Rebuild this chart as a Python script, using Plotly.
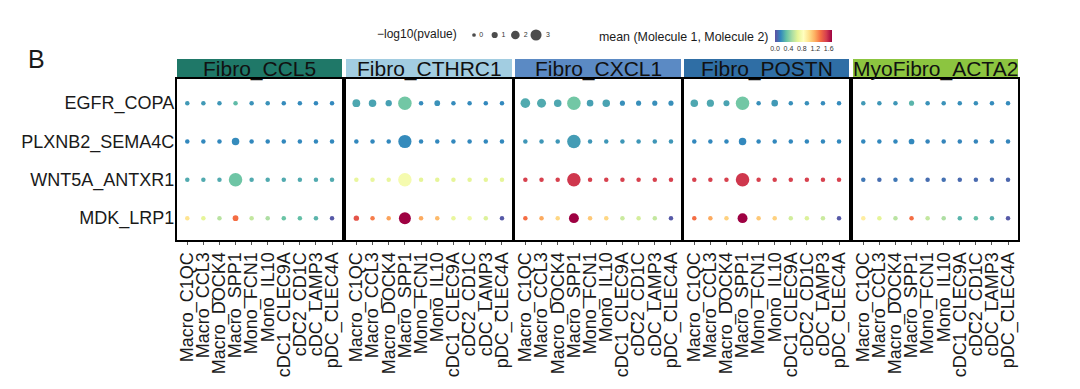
import plotly.graph_objects as go

W, H = 1080, 389

groups = ["Fibro_CCL5", "Fibro_CTHRC1", "Fibro_CXCL1", "Fibro_POSTN", "MyoFibro_ACTA2"]
strip_colors = ["#1f7868", "#a2cde1", "#5b8ac4", "#2f6ea5", "#8cc540"]
cells = ["Macro_C1QC", "Macro_CCL3", "Macro_DOCK4", "Macro_SPP1", "Mono_FCN1",
         "Mono_IL10", "cDC1_CLEC9A", "cDC2_CD1C", "cDC_LAMP3", "pDC_CLEC4A"]
pairs = ["EGFR_COPA", "PLXNB2_SEMA4C", "WNT5A_ANTXR1", "MDK_LRP1"]

# mean (Molecule 1, Molecule 2): rows follow `pairs`, columns follow `cells`
mean_ccl5 = [
    [0.22, 0.22, 0.21, 0.32, 0.20, 0.20, 0.18, 0.18, 0.17, 0.17],
    [0.17, 0.17, 0.17, 0.18, 0.17, 0.17, 0.17, 0.17, 0.17, 0.17],
    [0.27, 0.27, 0.27, 0.36, 0.27, 0.27, 0.27, 0.27, 0.27, 0.27],
    [1.00, 0.68, 0.55, 1.36, 0.58, 0.52, 0.35, 0.33, 0.30, 0.03],
]
mean_cthrc1 = [
    [0.26, 0.25, 0.24, 0.37, 0.18, 0.20, 0.18, 0.18, 0.17, 0.17],
    [0.17, 0.17, 0.17, 0.18, 0.17, 0.17, 0.17, 0.17, 0.17, 0.17],
    [0.70, 0.70, 0.70, 0.78, 0.68, 0.68, 0.68, 0.68, 0.68, 0.68],
    [1.45, 1.32, 1.22, 1.70, 1.20, 1.15, 0.70, 0.74, 0.65, 0.03],
]
mean_cxcl1 = [
    [0.27, 0.27, 0.26, 0.37, 0.24, 0.25, 0.19, 0.19, 0.19, 0.19],
    [0.21, 0.21, 0.21, 0.23, 0.21, 0.21, 0.21, 0.21, 0.21, 0.21],
    [1.52, 1.52, 1.52, 1.55, 1.52, 1.52, 1.52, 1.52, 1.52, 1.52],
    [1.36, 1.20, 1.05, 1.70, 1.10, 1.05, 0.60, 0.63, 0.58, 0.03],
]
mean_postn = [
    [0.26, 0.26, 0.25, 0.37, 0.19, 0.22, 0.19, 0.19, 0.18, 0.18],
    [0.17, 0.17, 0.17, 0.17, 0.17, 0.17, 0.17, 0.17, 0.17, 0.17],
    [1.52, 1.52, 1.52, 1.55, 1.52, 1.52, 1.52, 1.52, 1.52, 1.52],
    [1.36, 1.20, 1.07, 1.70, 1.10, 1.07, 0.62, 0.65, 0.60, 0.03],
]
mean_acta2 = [
    [0.22, 0.21, 0.21, 0.30, 0.20, 0.20, 0.19, 0.19, 0.18, 0.18],
    [0.17, 0.17, 0.17, 0.17, 0.16, 0.16, 0.16, 0.16, 0.16, 0.16],
    [0.12, 0.09, 0.12, 0.13, 0.09, 0.10, 0.08, 0.08, 0.08, 0.07],
    [0.95, 0.68, 0.55, 1.36, 0.58, 0.52, 0.30, 0.33, 0.28, 0.03],
]

# -log10(pvalue)
logp_ccl5 = [
    [0, 0, 0, 0, 0, 0, 0, 0, 0, 0],
    [0, 0, 0, 1.0, 0, 0, 0, 0, 0, 0],
    [0, 0, 0, 3.0, 0, 0, 0, 0, 0, 0],
    [0, 0, 0, 0.4, 0, 0, 0, 0, 0, 0],
]
logp_cthrc1 = [
    [1.1, 1.0, 0.6, 3.0, 0, 0.4, 0, 0, 0, 0],
    [0, 0, 0, 2.9, 0, 0, 0, 0, 0, 0],
    [0, 0, 0, 3.0, 0, 0, 0, 0, 0, 0],
    [0.3, 0, 0, 2.5, 0, 0, 0, 0, 0, 0],
]
logp_cxcl1 = [
    [1.7, 1.5, 1.0, 3.0, 0.7, 1.0, 0.2, 0.2, 0.2, 0.2],
    [0, 0, 0, 3.0, 0, 0, 0, 0, 0, 0],
    [0, 0, 0, 3.0, 0, 0, 0, 0, 0, 0],
    [0, 0, 0, 1.8, 0, 0, 0, 0, 0, 0],
]
logp_postn = [
    [1.0, 0.9, 0.5, 3.0, 0, 0.7, 0, 0, 0, 0],
    [0, 0, 0, 1.0, 0, 0, 0, 0, 0, 0],
    [0, 0, 0, 3.0, 0, 0, 0, 0, 0, 0],
    [0, 0, 0, 1.8, 0, 0, 0, 0, 0, 0],
]
logp_acta2 = [
    [0, 0, 0, 0.2, 0, 0, 0, 0, 0, 0],
    [0, 0, 0, 0.4, 0, 0, 0, 0, 0, 0],
    [0, 0, 0, 0, 0, 0, 0, 0, 0, 0],
    [0, 0, 0, 0, 0, 0, 0, 0, 0, 0],
]

size_legend_vals = [0, 1, 2, 3]
colorbar_ticks = [0.0, 0.4, 0.8, 1.2, 1.6]

means = [mean_ccl5, mean_cthrc1, mean_cxcl1, mean_postn, mean_acta2]
logps = [logp_ccl5, logp_cthrc1, logp_cxcl1, logp_postn, logp_acta2]

spectral_r = [
    [0.0, "rgb(94,79,162)"], [0.1, "rgb(50,136,189)"], [0.2, "rgb(102,194,165)"],
    [0.3, "rgb(171,221,164)"], [0.4, "rgb(230,245,152)"], [0.5, "rgb(255,255,191)"],
    [0.6, "rgb(254,224,139)"], [0.7, "rgb(253,174,97)"], [0.8, "rgb(244,109,67)"],
    [0.9, "rgb(213,62,79)"], [1.0, "rgb(158,1,66)"],
]
CMIN, CMAX = 0.0, 1.7
FONT = "Liberation Sans, Arial, Helvetica, sans-serif"


def px2size(v):
    return 4.5 + 3.0 * v


panel_x = [(177, 342), (346, 512), (515, 681), (684, 849), (853, 1018)]
box_top, box_bot = 79, 240
strip_top, strip_bot = 59, 78

fig = go.Figure()
layout = dict(
    width=W, height=H, margin=dict(l=0, r=0, t=0, b=0, autoexpand=False),
    paper_bgcolor="white", plot_bgcolor="white",
    font=dict(family=FONT, color="#1a1a1a"),
    showlegend=False,
)
shapes, annotations = [], []

for i, g in enumerate(groups):
    xs, ys, cs, ss = [], [], [], []
    for r, p in enumerate(pairs):
        for c, cell in enumerate(cells):
            xs.append(cell)
            ys.append(p)
            cs.append(means[i][r][c])
            ss.append(px2size(logps[i][r][c]))
    xa = "x" if i == 0 else f"x{i+1}"
    ya = "y" if i == 0 else f"y{i+1}"
    marker = dict(color=cs, size=ss, sizemode="diameter", colorscale=spectral_r,
                  cmin=CMIN, cmax=CMAX, line=dict(width=0), opacity=1)
    if i == 0:
        marker.update(showscale=True, colorbar=dict(
            orientation="h", x=(775 + 832) / 2 / W, xanchor="center",
            y=1 - 49 / H, yanchor="bottom", lenmode="pixels", len=57,
            thickness=12, xpad=0, ypad=0, outlinewidth=0,
            tickvals=colorbar_ticks, ticktext=[f"{t:.1f}" for t in colorbar_ticks],
            ticks="", tickfont=dict(size=7, family=FONT, color="#333"),
        ))
    else:
        marker.update(showscale=False)
    fig.add_trace(go.Scatter(x=xs, y=ys, mode="markers", marker=marker,
                             xaxis=xa, yaxis=ya, hoverinfo="skip"))
    x0, x1 = panel_x[i]
    xkey = "xaxis" if i == 0 else f"xaxis{i+1}"
    ykey = "yaxis" if i == 0 else f"yaxis{i+1}"
    layout[xkey] = dict(
        domain=[x0 / W, x1 / W], anchor=ya, type="category",
        categoryorder="array", categoryarray=cells, range=[-0.64, 9.62],
        tickmode="array", tickvals=cells, ticktext=cells,
        tickangle=-90, tickfont=dict(size=18, family=FONT, color="#1a1a1a"),
        ticks="outside", ticklen=3, tickwidth=1, tickcolor="#555",
        showline=True, mirror=True, linewidth=2.2, linecolor="black",
        showgrid=False, zeroline=False, fixedrange=True, automargin=False,
    )
    layout[ykey] = dict(
        domain=[1 - box_bot / H, 1 - box_top / H], anchor=xa, type="category",
        categoryorder="array", categoryarray=pairs[::-1], range=[-0.57, 3.63],
        showticklabels=(i == 0), ticks="",
        tickfont=dict(size=18, family=FONT, color="#1a1a1a"),
        ticklabelstandoff=-3,
        showline=True, mirror=True, linewidth=2.2, linecolor="black",
        showgrid=False, zeroline=False, fixedrange=True, automargin=False,
    )
    shapes.append(dict(type="rect", xref="paper", yref="paper",
                       x0=x0 / W, x1=x1 / W, y0=1 - strip_bot / H, y1=1 - strip_top / H,
                       fillcolor=strip_colors[i], line=dict(width=0), layer="below"))
    annotations.append(dict(text=g, xref="paper", yref="paper",
                            x=(x0 + x1) / 2 / W, y=1 - (strip_top + strip_bot) / 2 / H,
                            xanchor="center", yanchor="middle", showarrow=False,
                            font=dict(size=21, family=FONT, color="#111")))

# size legend
fig.add_trace(go.Scatter(
    x=size_legend_vals, y=[0] * len(size_legend_vals), mode="markers+text",
    marker=dict(size=[px2size(v) * 0.82 for v in size_legend_vals], color="black", line=dict(width=0)),
    text=[f" {v}" for v in size_legend_vals], textposition="middle right",
    textfont=dict(size=7, family=FONT, color="#333"),
    xaxis="x6", yaxis="y6", hoverinfo="skip", cliponaxis=False,
))
layout["xaxis6"] = dict(domain=[470 / W, 560 / W], anchor="y6", range=[-0.194, 4.16],
                        visible=False, fixedrange=True, automargin=False)
layout["yaxis6"] = dict(domain=[1 - 45 / H, 1 - 25 / H], anchor="x6", range=[-1, 1],
                        visible=False, fixedrange=True, automargin=False)

annotations.append(dict(text="\u2212log10(pvalue)", xref="paper", yref="paper",
                        x=375 / W, y=1 - 34 / H, xanchor="left", yanchor="middle",
                        showarrow=False, font=dict(size=12, family=FONT, color="#1a1a1a")))
annotations.append(dict(text="mean (Molecule 1, Molecule 2)", xref="paper", yref="paper",
                        x=597 / W, y=1 - 37 / H, xanchor="left", yanchor="middle",
                        showarrow=False, font=dict(size=12.4, family=FONT, color="#1a1a1a")))
annotations.append(dict(text="B", xref="paper", yref="paper",
                        x=26 / W, y=1 - 59 / H, xanchor="left", yanchor="middle",
                        showarrow=False, font=dict(size=25, family=FONT, color="#1a1a1a")))

layout["shapes"] = shapes
layout["annotations"] = annotations
fig.update_layout(**layout)
fig.write_html("out.html", config={"displayModeBar": False},
               post_script="document.body.style.margin='0';")
